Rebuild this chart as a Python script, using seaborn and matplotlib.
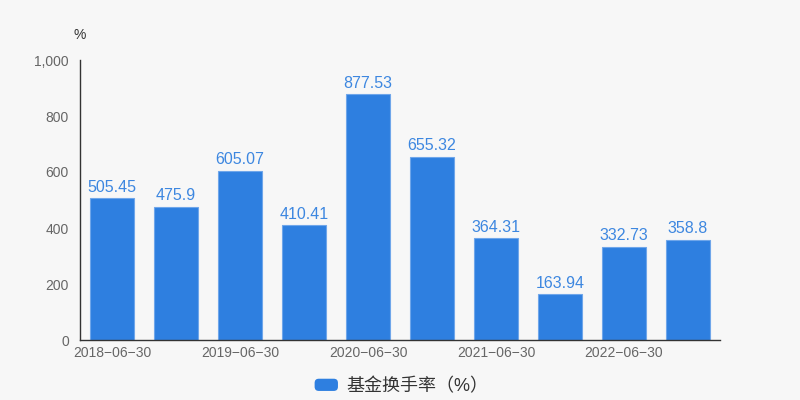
import numpy as np
import pandas as pd
import matplotlib
matplotlib.use("Agg")
import matplotlib.pyplot as plt
import matplotlib.patches as mpatches
from matplotlib.legend_handler import HandlerPatch
import seaborn as sns

dates = ["2018-06-30", "2018-12-31", "2019-06-30", "2019-12-31", "2020-06-30",
         "2020-12-31", "2021-06-30", "2021-12-31", "2022-06-30", "2022-12-31"]
turnover = [505.45, 475.9, 605.07, 410.41, 877.53, 655.32, 364.31, 163.94, 332.73, 358.8]
value_labels = ["505.45", "475.9", "605.07", "410.41", "877.53",
                "655.32", "364.31", "163.94", "332.73", "358.8"]
series_name = "基金换手率（%）"

sns.set_style("white")
plt.rcParams["font.family"] = ["Liberation Sans", "Noto Sans CJK SC", "DejaVu Sans"]

BG = "#f7f7f7"
BAR = "#2e7fe0"
TXT = "#666666"


class RoundBox(HandlerPatch):
    def create_artists(self, legend, orig_handle, xdescent, ydescent,
                       width, height, fontsize, trans):
        p = mpatches.FancyBboxPatch((-xdescent + 2, -ydescent + 1), width - 4, height - 2,
                                    boxstyle="round,pad=0,rounding_size=3",
                                    facecolor=BAR, edgecolor="none", transform=trans)
        return [p]


df = pd.DataFrame({"date": dates, "value": turnover})

fig = plt.figure(figsize=(8, 4), dpi=100, facecolor=BG)
ax = fig.add_axes([0.1, 0.15, 0.8, 0.7])
ax.set_facecolor(BG)

sns.barplot(data=df, x="date", y="value", color=BAR, width=0.6875, saturation=1,
            edgecolor="#6fa6ea", linewidth=0.8, ax=ax)

for i, (v, lab) in enumerate(zip(turnover, value_labels)):
    ax.text(i, v + 12, lab, ha="center", va="bottom", color="#3d87e0", fontsize=11.5)

ax.set_xlim(-0.5, len(dates) - 0.5)
ax.set_ylim(0, 1000)
ax.set_yticks(range(0, 1001, 200))
ax.set_yticklabels([f"{t:,}" for t in range(0, 1001, 200)], color=TXT, fontsize=10)

# ticks at category boundaries, labels at category centres
ax.set_xticks(np.arange(-0.5, len(dates), 2))
ax.set_xticklabels([])
ax.set_xticks(np.arange(0, len(dates), 2), minor=True)
ax.set_xticklabels([d.replace("-", "\u2212") for d in dates[::2]], minor=True,
                   color=TXT, fontsize=10)
ax.tick_params(axis="x", which="minor", length=0, pad=4)
ax.tick_params(axis="x", which="major", length=5, width=1, color="#333333", direction="out")
ax.tick_params(axis="y", length=5, width=1, color="#333333", direction="out", pad=3)

for s in ["top", "right"]:
    ax.spines[s].set_visible(False)
for s in ["left", "bottom"]:
    ax.spines[s].set_color("#333333")
    ax.spines[s].set_linewidth(1)

ax.set_xlabel("")
ax.set_ylabel("")
ax.text(0, 1.065, "%", transform=ax.transAxes, ha="center", va="bottom",
        color="#333333", fontsize=10)

handle = mpatches.Patch(color=BAR, label=series_name)
ax.legend(handles=[handle], handler_map={mpatches.Patch: RoundBox()},
          loc="center", bbox_to_anchor=(0.5, -0.165), frameon=False,
          fontsize=13, handlelength=1.6, handleheight=0.9, handletextpad=0.3,
          labelcolor="#333333")

fig.savefig("out.png", dpi=100, facecolor=BG)
